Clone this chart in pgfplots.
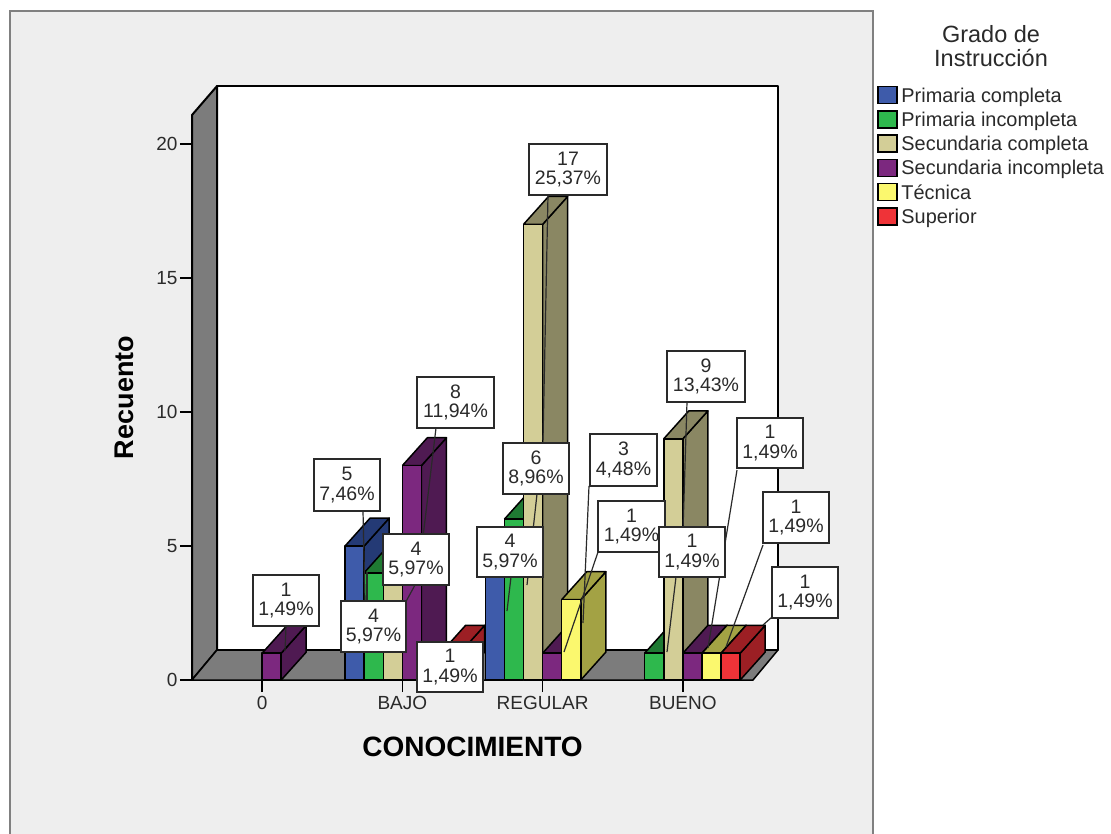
\documentclass[border=0pt]{standalone}
\usepackage{fontspec}
\setmainfont{Liberation Sans}
\usepackage{pgfplots}
\pgfplotsset{compat=1.18}

% SPSS-style palette: face colour and its shaded side
\definecolor{panelgrey}{HTML}{EEEEEE}
\definecolor{wallgrey}{HTML}{7C7C7C}
\definecolor{inkgrey}{HTML}{2A2A2A}
\definecolor{pcF}{HTML}{3E5BAA}\definecolor{pcS}{HTML}{243A75}
\definecolor{piF}{HTML}{2EB84D}\definecolor{piS}{HTML}{1F7A33}
\definecolor{scF}{HTML}{D3CE97}\definecolor{scS}{HTML}{8A8763}
\definecolor{siF}{HTML}{7C287F}\definecolor{siS}{HTML}{4F1A52}
\definecolor{teF}{HTML}{FBF86E}\definecolor{teS}{HTML}{A3A244}
\definecolor{suF}{HTML}{EF3338}\definecolor{suS}{HTML}{9C1F24}

% Oblique projection: width of one bar and depth offsets in axis units
\newcommand{\slotw}{0.1362}
\newcommand{\depx}{0.1783}
\newcommand{\depy}{1.04}

% category, slot within the cluster, count, colour prefix
\newcommand{\threedbar}[4]{%
  \pgfmathsetmacro\xa{#1+(#2-3)*\slotw}%
  \pgfmathsetmacro\xb{\xa+\slotw}%
  \pgfmathsetmacro\xc{\xa+\depx}%
  \pgfmathsetmacro\xd{\xb+\depx}%
  \pgfmathsetmacro\yt{#3+\depy}%
  \addplot[barline,fill=#4S] coordinates {(\xb,0)(\xd,\depy)(\xd,\yt)(\xb,#3)(\xb,0)};
  \addplot[barline,fill=#4S] coordinates {(\xa,#3)(\xb,#3)(\xd,\yt)(\xc,\yt)(\xa,#3)};
  \addplot[barline,fill=#4F] coordinates {(\xa,0)(\xb,0)(\xb,#3)(\xa,#3)(\xa,0)};
}

% box corners, value, percentage
\newcommand{\callbox}[6]{%
  \node[draw=inkgrey,line width=1.5pt,fill=white,minimum width={#3-#1},minimum height={#4-#2},
        inner sep=0pt,align=center,font=\fontsize{19.5}{19.5}\selectfont,text=inkgrey,anchor=center]
        at ({(#1+#3)/2},{(#2+#4)/2}) {#5\\#6};%
}

\begin{document}
\begin{tikzpicture}
\begin{scope}[x=1pt,y=-1pt]
  \path[use as bounding box] (0,0) rectangle (1111,834);
  \clip (0,0) rectangle (1111,834);
  \fill[white] (0,0) rectangle (1111,834);
  \draw[fill=panelgrey,draw=gray,line width=2pt] (10,11) rectangle (873,860);
\end{scope}

\begin{axis}[
  at={(192pt,-680pt)}, anchor=south west,
  scale only axis, width=561pt, height=565pt,
  xmin=-0.5, xmax=3.5, ymin=0, ymax=21.08,
  clip=false,
  axis lines*=left,
  axis line style={-,line width=1.5pt,black},
  xtick={0,1,2,3}, xticklabels={0,BAJO,REGULAR,BUENO},
  ytick={0,5,10,15,20},
  tick align=outside, major tick length=12pt,
  tick style={black,line width=1.5pt},
  /pgf/number format/assume math mode=true,
  tick label style={font=\fontsize{19}{21}\selectfont,text=inkgrey},
  xticklabel style={yshift=-1pt},
  yticklabel style={xshift=1pt},
  xlabel={CONOCIMIENTO},
  ylabel={Recuento},
  xlabel style={font=\fontsize{28}{30}\bfseries\selectfont,at={(axis description cs:0.5,-0.119)},anchor=center},
  ylabel style={font=\fontsize{27}{30}\bfseries\selectfont,at={(axis description cs:-0.121,0.5)},anchor=center,rotate=0},
  barline/.style={draw=black,line width=1.5pt,line join=round,mark=none,forget plot},
  legend image code/.code={\draw[#1,draw=black,line width=1.5pt] (0pt,-6.5pt) rectangle (19pt,10.5pt);},
  legend style={at={(1.2215,1.052)},anchor=north west,draw=none,fill=none,inner sep=0pt,
    row sep=4pt,column sep=3.5pt,font=\fontsize{19.9}{21}\selectfont,text=inkgrey,
    nodes={inner sep=0pt,anchor=west,text height=14pt,text depth=4pt}},
  legend cell align=left,
]
% Room walls and floor
\addplot[barline,fill=white,line width=2pt] coordinates {(-0.3217,1.119)(3.678,1.119)(3.678,22.16)(-0.3217,22.16)(-0.3217,1.119)};
\addplot[barline,fill=wallgrey,line width=2pt] coordinates {(-0.5,0)(-0.5,21.08)(-0.3217,22.16)(-0.3217,1.119)(-0.5,0)};
\addplot[barline,fill=wallgrey] coordinates {(-0.5,0)(3.5,0)(3.678,1.119)(-0.3217,1.119)(-0.5,0)};

% Counts per knowledge level, left to right
\threedbar{0}{3}{1}{si}
\threedbar{1}{0}{5}{pc}
\threedbar{1}{1}{4}{pi}
\threedbar{1}{2}{4}{sc}
\threedbar{1}{3}{8}{si}
\threedbar{1}{5}{1}{su}
\threedbar{2}{0}{4}{pc}
\threedbar{2}{1}{6}{pi}
\threedbar{2}{2}{17}{sc}
\threedbar{2}{3}{1}{si}
\threedbar{2}{4}{3}{te}
\threedbar{3}{1}{1}{pi}
\threedbar{3}{2}{9}{sc}
\threedbar{3}{3}{1}{si}
\threedbar{3}{4}{1}{te}
\threedbar{3}{5}{1}{su}

\addlegendimage{fill=pcF}\addlegendentry{Primaria completa}
\addlegendimage{fill=piF}\addlegendentry{Primaria incompleta}
\addlegendimage{fill=scF}\addlegendentry{Secundaria completa}
\addlegendimage{fill=siF}\addlegendentry{Secundaria incompleta}
\addlegendimage{fill=teF}\addlegendentry{Técnica}
\addlegendimage{fill=suF}\addlegendentry{Superior}
\end{axis}

\begin{scope}[x=1pt,y=-1pt]
  \clip (0,0) rectangle (1111,834);
  % Legend heading
  \node[align=center,font=\fontsize{23.5}{24}\selectfont,text=inkgrey] at (991,46) {Grado de\\Instrucción};

  % Leader lines
  \begin{scope}[draw=inkgrey,line width=1.2pt]
    \draw (286,626) -- (285,651);
    \draw (363,511) -- (365,600);
    \draw (436,428) -- (423,537);
    \draw (367,600) -- (367,572);
    \draw (415,585) -- (403,607);
    \draw (548,195) -- (543,440);
    \draw (537,494) -- (527,585);
    \draw (511,577) -- (507,611);
    \draw (589,486) -- (583,623);
    \draw (598,552) -- (564,652);
    \draw (676,577) -- (667,652);
    \draw (687,402) -- (683,530);
    \draw (737,470) -- (708,648);
    \draw (763,545) -- (726,647);
    \draw (772,617) -- (763,625);
  \end{scope}

  % Value and share of each bar
  \callbox{253}{575}{319}{626}{1}{1,49\%}
  \callbox{314}{459}{380}{511}{5}{7,46\%}
  \callbox{417}{377}{494}{428}{8}{11,94\%}
  \callbox{383}{534}{449}{585}{4}{5,97\%}
  \callbox{341}{601}{406}{652}{4}{5,97\%}
  \callbox{417}{642}{483}{692}{1}{1,49\%}
  \callbox{529}{144}{607}{195}{17}{25,37\%}
  \callbox{477}{527}{543}{577}{4}{5,97\%}
  \callbox{503}{443}{569}{494}{6}{8,96\%}
  \callbox{590}{434}{657}{486}{3}{4,48\%}
  \callbox{598}{501}{665}{552}{1}{1,49\%}
  \callbox{659}{527}{725}{577}{1}{1,49\%}
  \callbox{667}{351}{745}{402}{9}{13,43\%}
  \callbox{737}{418}{803}{468}{1}{1,49\%}
  \callbox{763}{492}{829}{543}{1}{1,49\%}
  \callbox{772}{567}{838}{618}{1}{1,49\%}
\end{scope}
\end{tikzpicture}
\end{document}
